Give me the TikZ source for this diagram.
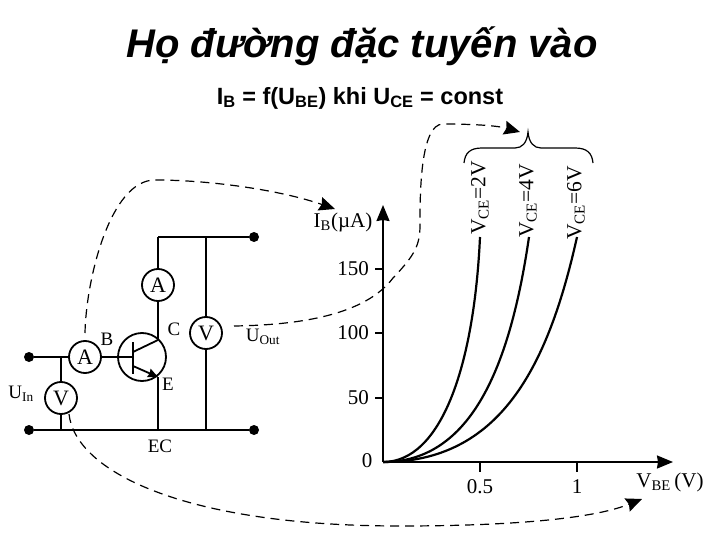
\documentclass[tikz,border=0pt]{standalone}
\usepackage{fontspec}
\setmainfont{Liberation Serif}
\newfontfamily\arialfont{Liberation Sans}
\usetikzlibrary{arrows.meta}
\tikzset{
  wire/.style={line width=1.8pt},
  curve/.style={line width=2.2pt},
  guide/.style={line width=1.2pt,dash pattern=on 9pt off 6pt,-{Stealth[length=16pt,width=14pt,inset=2pt]}},
  meter/.style={circle,draw,line width=1.8pt,fill=white,minimum size=32pt,inner sep=0pt,font=\fontsize{22}{22}\selectfont},
  terminal/.style={circle,fill=black,minimum size=10pt,inner sep=0pt},
  lbl/.style={inner sep=0pt,font=\fontsize{19}{19}\selectfont},
  scalelbl/.style={inner sep=0pt,font=\fontsize{21}{21}\selectfont},
  curvelbl/.style={inner sep=0pt,rotate=90,font=\fontsize{21.5}{21.5}\selectfont}
}
\begin{document}
\begin{tikzpicture}[x=1pt,y=-1pt,>={Stealth[length=16pt,width=13pt,inset=1pt]}]
    \useasboundingbox (0,0) rectangle (720,540);

    % titles
    \node[inner sep=0pt,font=\arialfont\bfseries\itshape\fontsize{40}{40}\selectfont] (title) at (362,46) {Họ đường đặc tuyến vào};
    \node[inner sep=0pt,font=\arialfont\bfseries\fontsize{23.5}{23.5}\selectfont] (formula) at (360,98) {I\textsubscript{B} = f(U\textsubscript{BE}) khi U\textsubscript{CE} = const};

    % circuit
    \node[terminal] (inTop) at (29,357) {};
    \node[terminal] (inBot) at (29,430) {};
    \node[terminal] (outTop) at (254,237) {};
    \node[terminal] (outBot) at (254,430) {};
    \node[meter] (ampB) at (85,357) {A};
    \node[meter] (voltIn) at (61,398) {V};
    \node[meter] (ampC) at (158,285) {A};
    \node[meter] (voltOut) at (206,333) {V};
    \node[circle,draw,line width=1.8pt,minimum size=48pt,inner sep=0pt] (npn) at (142,357) {};

    \coordinate (baseBar) at (133,357);
    \coordinate (baseTop) at (133,342);
    \coordinate (baseBot) at (133,374);
    \coordinate (collIn) at (133,352);
    \coordinate (collOut) at (158,340);
    \coordinate (emitIn) at (133,366);
    \coordinate (emitOut) at (158,377);
    \coordinate (topC) at (158,237);
    \coordinate (topV) at (206,237);
    \coordinate (botIn) at (61,430);
    \coordinate (botE) at (158,430);
    \coordinate (botV) at (206,430);
    \coordinate (tapIn) at (61,357);

    \draw[wire] (inTop) -- (ampB);
    \draw[wire] (ampB) -- (baseBar);
    \draw[wire] (baseTop) -- (baseBot);
    \draw[wire] (collIn) -- (collOut);
    \draw[wire,-{Stealth[length=10pt,width=9pt,inset=1pt]}] (emitIn) -- (emitOut);
    \draw[wire] (collOut) -- (ampC);
    \draw[wire] (ampC) -- (topC);
    \draw[wire] (topC) -- (outTop);
    \draw[wire] (topV) -- (voltOut);
    \draw[wire] (voltOut) -- (botV);
    \draw[wire] (emitOut) -- (botE);
    \draw[wire] (inBot) -- (outBot);
    \draw[wire] (tapIn) -- (voltIn);
    \draw[wire] (voltIn) -- (botIn);

    \node[lbl] (lblB) at (107,339) {B};
    \node[lbl] (lblC) at (174,329) {C};
    \node[lbl] (lblE) at (168,384) {E};
    \node[lbl] (lblEC) at (160,446) {EC};
    \node[lbl] (lblIn) at (21,394) {U\textsubscript{In}};
    \node[lbl] (lblOut) at (263,337) {U\textsubscript{Out}};

    % axes
    \coordinate (origin) at (383,462);
    \coordinate (yTip) at (383,205);
    \coordinate (xTip) at (673,462);
    \draw[wire,->] (origin) -- (yTip);
    \draw[wire,->] (origin) -- (xTip);
    \foreach \val/\ypos in {50/398,100/333,150/269} {
      \draw[wire] (375,\ypos) -- (383,\ypos);
      \node[scalelbl,anchor=east] (tick\val) at (369,\ypos) {\val};
    }
    \foreach \val/\xpos in {0.5/480,1/577} {
      \draw[wire] (\xpos,462) -- (\xpos,472);
      \node[scalelbl] (tick\val) at (\xpos,487) {\val};
    }
    \node[scalelbl] (tickZero) at (367,461) {0};
    \node[scalelbl] (labelY) at (343,222) {I\textsubscript{B}(µA)};
    \node[scalelbl] (labelX) at (670,482) {V\textsubscript{BE}\,(V)};

    % input curves
    \draw[curve] (origin) .. controls (441,462) and (474,367) .. (480,237);
    \draw[curve] (origin) .. controls (471,462) and (510,367) .. (529,237);
    \draw[curve] (origin) .. controls (500,462) and (548,367) .. (577,237);
    \node[curvelbl] (lblCE2) at (480,198) {V\textsubscript{CE}=2V};
    \node[curvelbl] (lblCE4) at (528,201) {V\textsubscript{CE}=4V};
    \node[curvelbl] (lblCE6) at (576,203) {V\textsubscript{CE}=6V};

    % brace
    \coordinate (braceL) at (464,163);
    \coordinate (braceTip) at (528,132);
    \coordinate (braceR) at (593,163);
    \draw[line width=1.2pt] (braceL) .. controls (465,153) and (470,148) .. (482,148) -- (515,148)
      .. controls (522,148) and (527,143) .. (braceTip)
      .. controls (529,143) and (534,148) .. (541,148) -- (575,148)
      .. controls (587,148) and (592,153) .. (braceR);

    % dashed guides
    \coordinate (startY) at (85,333);
    \coordinate (endY) at (335,209);
    \coordinate (startOut) at (234,326);
    \coordinate (endBrace) at (520,132);
    \coordinate (startIn) at (69,414);
    \coordinate (endX) at (642,499);
    \draw[guide] (startY) .. controls (86,280) and (110,180) .. (155,180)
      .. controls (210,180) and (280,190) .. (endY);
    \draw[guide] (startOut) .. controls (300,325) and (365,315) .. (393,278)
      .. controls (415,255) and (420,245) .. (420,225)
      .. controls (420,195) and (420,124) .. (443,124)
      .. controls (465,124) and (495,125) .. (endBrace);
    \draw[guide] (startIn) .. controls (75,470) and (180,526) .. (400,526)
      .. controls (500,526) and (590,520) .. (endX);
  \end{tikzpicture}
\end{document}
